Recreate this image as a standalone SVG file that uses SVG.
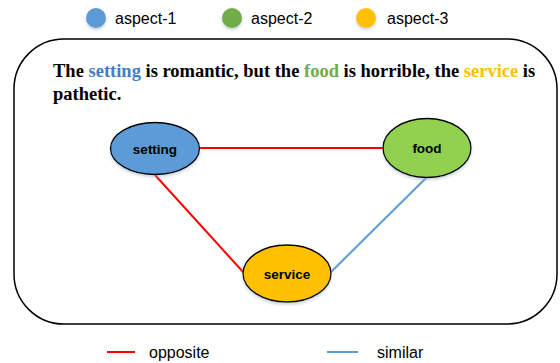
<svg xmlns="http://www.w3.org/2000/svg" width="560" height="363" viewBox="0 0 560 363">
<defs>
<filter id="sh" x="-30%" y="-30%" width="160%" height="160%">
<feGaussianBlur in="SourceAlpha" stdDeviation="1.5"/>
<feOffset dx="0" dy="1.5" result="b"/>
<feFlood flood-color="#9ab" flood-opacity="0.5"/>
<feComposite in2="b" operator="in"/>
<feMerge><feMergeNode/><feMergeNode in="SourceGraphic"/></feMerge>
</filter>
</defs>
<style>
.leg{font-family:"Liberation Sans",Arial,sans-serif;font-size:16px;fill:#000}
.node ellipse{stroke:#000;stroke-width:1.3}
.lbl{font-family:"Liberation Sans",Arial,sans-serif;font-size:13.5px;font-weight:bold;fill:#000;text-anchor:middle}
.sent{font-family:"Liberation Serif","Times New Roman",serif;font-size:18.5px;font-weight:bold;fill:#000}
.red{stroke:#FF0000;stroke-width:2;fill:none}
.blue{stroke:#5B9BD5;stroke-width:2;fill:none}
</style>
<g id="legend-top">
<circle cx="96" cy="18" r="10" fill="#5B9BD5" filter="url(#sh)"/>
<text class="leg" x="115" y="23.5">aspect-1</text>
<circle cx="232" cy="18" r="10" fill="#70AD47" filter="url(#sh)"/>
<text class="leg" x="251" y="23.5">aspect-2</text>
<circle cx="366" cy="18" r="10" fill="#FFC000" filter="url(#sh)"/>
<text class="leg" x="387" y="23.5">aspect-3</text>
</g>
<rect id="frame" x="14" y="39" width="543" height="285" rx="50" ry="50" fill="none" stroke="#000" stroke-width="1.5"/>
<text class="sent" x="53" y="77">The <tspan fill="#3F7FC5">setting</tspan> is romantic, but the <tspan fill="#70AD47">food</tspan> is horrible, the <tspan fill="#FFC000">service</tspan> is</text>
<text class="sent" x="53" y="100">pathetic.</text>
<g id="connectors">
<line class="red" x1="199" y1="148" x2="383" y2="148"/>
<line class="red" x1="155" y1="175" x2="244" y2="273"/>
<line class="blue" x1="427" y1="177" x2="330" y2="273"/>
</g>
<g id="setting" class="node">
<ellipse cx="155" cy="148.5" rx="44.5" ry="26" fill="#5B9BD5" filter="url(#sh)"/>
<text class="lbl" x="155" y="153.5">setting</text>
</g>
<g id="food" class="node">
<ellipse cx="427" cy="148" rx="44" ry="29.5" fill="#92D050" filter="url(#sh)"/>
<text class="lbl" x="427" y="153">food</text>
</g>
<g id="service" class="node">
<ellipse cx="287" cy="273.5" rx="44" ry="28.5" fill="#FFC000" filter="url(#sh)"/>
<text class="lbl" x="287" y="278.5">service</text>
</g>
<g id="legend-bottom">
<line class="red" x1="107" y1="352" x2="135" y2="352"/>
<text class="leg" x="149" y="357.5">opposite</text>
<line class="blue" x1="327" y1="352" x2="358" y2="352"/>
<text class="leg" x="377" y="357.5">similar</text>
</g>
</svg>
